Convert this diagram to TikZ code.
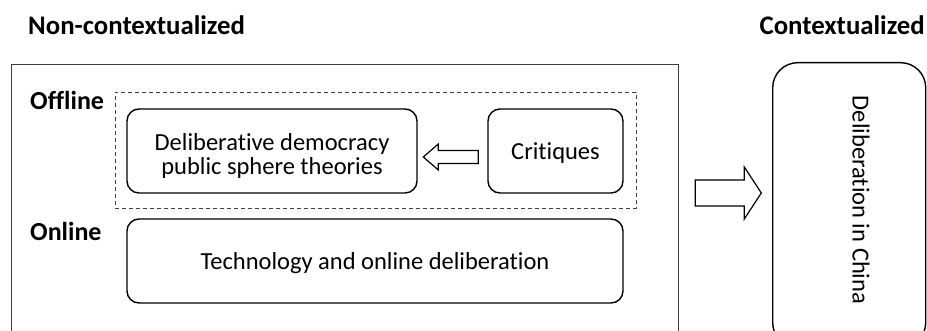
\documentclass[tikz,border=0pt]{standalone}
\usepackage{fontspec}
\setmainfont{Carlito}[Ligatures=NoCommon]
\begin{document}
\begin{tikzpicture}[x=1pt,y=-1pt,
  heading/.style={font=\fontsize{26.8}{28}\selectfont\bfseries, inner sep=0pt},
  rowlabel/.style={font=\fontsize{26}{28}\selectfont\bfseries, inner sep=0pt},
  body/.style={font=\fontsize{24.5}{24.5}\selectfont, inner sep=0pt, align=center},
  rbox/.style={draw=black, line width=1.4pt, rounded corners=12pt, inner sep=0pt},
  frame/.style={draw=black!75, line width=1.3pt, inner sep=0pt},
  group/.style={draw=black!75, line width=0.9pt, dash pattern=on 4pt off 3pt, inner sep=0pt},
  hollow/.style={draw=black, line width=1.2pt, fill=white, line join=miter}]
\useasboundingbox (0,0) rectangle (927,331);
\begin{scope}
\clip (0,0) rectangle (927,331);

% column headings
\node[heading, anchor=base west] (noncontext) at (28,35) {Non-contextualized};
\node[heading, anchor=base east] (context) at (925,35) {Contextualized};

% outer frame of the non-contextualized literature
\node[frame, minimum width=667pt, minimum height=300pt, anchor=north west]
  (outer) at (11,64) {};

% offline group (dashed)
\node[group, minimum width=521pt, minimum height=116pt, anchor=north west]
  (offgroup) at (115,92) {};

\node[rowlabel, anchor=base west] (offline) at (30,110) {Offline};
\node[rowlabel, anchor=base west] (online) at (30,241) {Online};

% theory boxes
\node[rbox, minimum width=290pt, minimum height=84pt] (delib) at (272,151) {};
\node[body] (delibtext) at (272,156) {Deliberative democracy\\public sphere theories};
\node[rbox, minimum width=135pt, minimum height=84pt] (crit) at (555.5,151) {};
\node[body] (crittext) at (555.5,153) {Critiques};
\node[rbox, minimum width=496pt, minimum height=84pt] (tech) at (375,261) {};
\node[body] (techtext) at (375,263) {Technology and online deliberation};

% contextualized box
\node[rbox, rounded corners=25pt, minimum width=153pt, minimum height=285pt,
  anchor=north west] (china) at (772,62) {};
\node[body, rotate=-90] (chinatext) at (861,200) {Deliberation in China};

% hollow block arrows
\draw[hollow] (crit.west) ++(-9,-0.5) coordinate (ls)
  -- ++(-40,0) -- ++(0,-6.5) -- ++(-15,13) -- ++(15,13) -- ++(0,-6.5) -- ++(40,0) -- cycle;
\draw[hollow] (outer.east |- 0,180) ++(16,0) coordinate (rs)
  -- ++(49,0) -- ++(0,-13) -- ++(17,26) -- ++(-17,26) -- ++(0,-13) -- ++(-49,0) -- cycle;
\end{scope}
\end{tikzpicture}
\end{document}
